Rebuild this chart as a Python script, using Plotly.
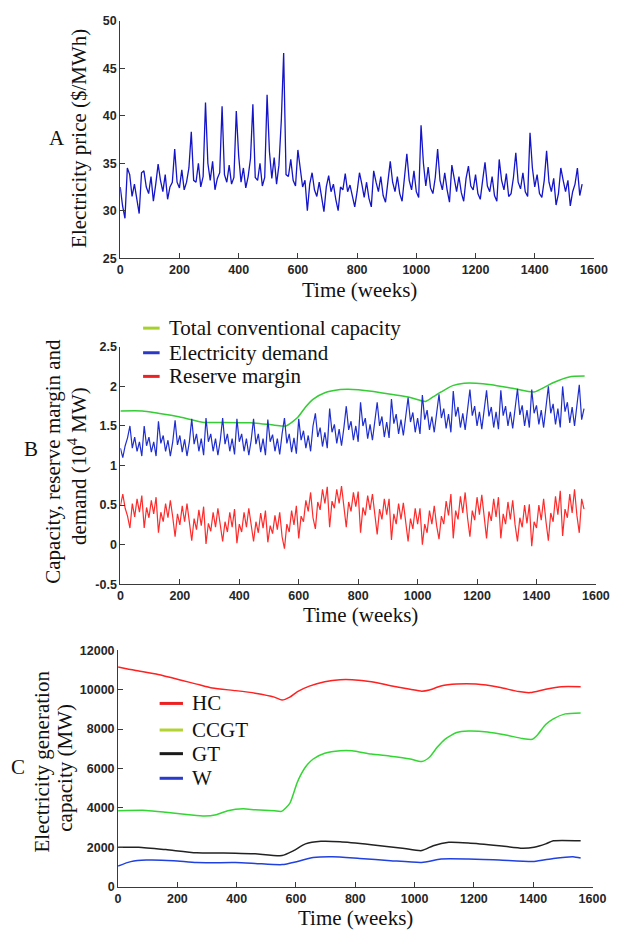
import plotly.graph_objects as go

W, H = 625, 936

# ---------------- data ----------------
WEEKS = list(range(0, 1561, 8))

price = [32.5, 30.5, 29.2, 34.5, 33.8, 31.5, 32.8, 31.4, 29.7, 34.0,
         34.2, 32.5, 31.8, 33.6, 31.0, 32.8, 34.9, 33.2, 32.0, 33.8,
         31.2, 32.5, 33.0, 36.5, 33.0, 32.4, 34.3, 32.2, 33.0, 34.5,
         38.3, 33.2, 33.0, 35.0, 32.5, 33.6, 41.4, 35.0, 33.2, 35.2,
         32.2, 33.4, 34.0, 41.0, 33.8, 33.0, 34.8, 32.8, 33.5, 40.5,
         35.8, 33.0, 34.5, 32.4, 33.6, 35.5, 41.2, 33.5, 33.2, 35.0,
         32.6, 33.5, 42.2, 36.2, 33.4, 35.6, 32.8, 34.8, 39.5, 46.6,
         33.8, 33.6, 35.4, 33.2, 32.6, 36.4, 34.2, 32.5, 33.2, 30.0,
         32.8, 34.0, 32.2, 31.5, 33.0, 31.6, 29.9, 32.5, 33.7, 32.0,
         32.8, 31.2, 30.0, 32.5, 32.2, 33.9, 32.0, 32.7, 31.5, 30.4,
         32.0, 34.0, 32.8, 31.4, 33.0, 31.3, 30.4, 34.2, 33.0, 32.0,
         33.6, 31.6, 30.9, 33.0, 35.2, 33.0, 32.0, 33.6, 31.8, 31.0,
         33.8, 36.0, 33.2, 32.2, 34.2, 32.0, 31.4, 39.0, 35.0, 32.6,
         34.6, 32.4, 31.8, 33.5, 36.5, 33.2, 32.2, 34.0, 32.2, 30.9,
         34.8, 33.5, 32.0, 33.6, 31.9, 31.0, 33.4, 34.7, 32.6, 32.2,
         33.8, 31.8, 31.2, 33.2, 35.1, 32.6, 32.0, 33.6, 31.6, 31.0,
         35.4, 33.2, 32.2, 33.9, 31.5, 31.8, 33.5, 36.1, 33.0, 32.3,
         34.0, 32.0, 31.5, 38.2, 34.5, 32.5, 33.8, 31.8, 31.4, 33.2,
         36.3, 33.0, 32.0, 33.4, 30.6, 31.8, 34.5, 33.2, 32.0, 33.2,
         30.5, 32.0, 32.8, 34.5, 31.6, 32.8]

demand = [1.22, 1.10, 1.25, 1.35, 1.50, 1.22, 1.36, 1.18, 1.30, 1.12,
          1.50, 1.25, 1.36, 1.17, 1.30, 1.12, 1.56, 1.28, 1.38, 1.18,
          1.32, 1.12, 1.30, 1.57, 1.26, 1.38, 1.17, 1.33, 1.12, 1.30,
          1.59, 1.27, 1.40, 1.18, 1.34, 1.13, 1.60, 1.30, 1.40, 1.18,
          1.34, 1.13, 1.32, 1.60, 1.27, 1.40, 1.18, 1.34, 1.14, 1.59,
          1.30, 1.40, 1.18, 1.34, 1.13, 1.32, 1.59, 1.27, 1.40, 1.17,
          1.34, 1.13, 1.58, 1.30, 1.39, 1.18, 1.34, 1.14, 1.40, 1.60,
          1.28, 1.40, 1.17, 1.35, 1.15, 1.59, 1.32, 1.44, 1.22, 1.38,
          1.18, 1.50, 1.66, 1.36, 1.48, 1.24, 1.42, 1.22, 1.72, 1.42,
          1.52, 1.28, 1.46, 1.25, 1.48, 1.75, 1.45, 1.56, 1.32, 1.50,
          1.30, 1.80, 1.50, 1.60, 1.34, 1.52, 1.32, 1.55, 1.80, 1.50,
          1.62, 1.36, 1.55, 1.35, 1.84, 1.53, 1.65, 1.40, 1.58, 1.38,
          1.60, 1.86, 1.55, 1.67, 1.42, 1.60, 1.40, 1.89, 1.58, 1.70,
          1.45, 1.62, 1.42, 1.66, 1.90, 1.60, 1.72, 1.47, 1.65, 1.42,
          1.94, 1.62, 1.74, 1.48, 1.66, 1.45, 1.70, 1.96, 1.63, 1.75,
          1.50, 1.68, 1.46, 1.70, 1.95, 1.62, 1.74, 1.48, 1.68, 1.46,
          1.95, 1.63, 1.75, 1.50, 1.68, 1.47, 1.72, 1.97, 1.64, 1.76,
          1.50, 1.70, 1.48, 1.96, 1.66, 1.76, 1.52, 1.70, 1.48, 1.72,
          2.00, 1.66, 1.78, 1.52, 1.72, 1.48, 2.00, 1.68, 1.80, 1.54,
          1.74, 1.50, 1.76, 2.02, 1.58, 1.72]

reserve = [0.49, 0.64, 0.46, 0.36, 0.21, 0.52, 0.35, 0.58, 0.41, 0.62,
           0.21, 0.47, 0.34, 0.56, 0.39, 0.60, 0.15, 0.41, 0.29, 0.52,
           0.34, 0.56, 0.35, 0.10, 0.39, 0.25, 0.49, 0.29, 0.52, 0.31,
           0.05, 0.33, 0.19, 0.44, 0.24, 0.48, 0.01, 0.27, 0.17, 0.41,
           0.22, 0.46, 0.24, 0.04, 0.29, 0.16, 0.41, 0.22, 0.45, 0.02,
           0.26, 0.16, 0.41, 0.22, 0.46, 0.24, 0.04, 0.29, 0.15, 0.40,
           0.21, 0.43, 0.03, 0.24, 0.14, 0.37, 0.19, 0.41, 0.10, -0.05,
           0.26, 0.16, 0.43, 0.25, 0.49, 0.08, 0.36, 0.29, 0.56, 0.42,
           0.66, 0.34, 0.20, 0.54, 0.44, 0.70, 0.52, 0.73, 0.22, 0.55,
           0.46, 0.70, 0.52, 0.74, 0.48, 0.22, 0.54, 0.42, 0.66, 0.48,
           0.67, 0.15, 0.47, 0.37, 0.62, 0.44, 0.64, 0.38, 0.13, 0.45,
           0.32, 0.58, 0.38, 0.58, 0.06, 0.39, 0.26, 0.52, 0.32, 0.53,
           0.27, 0.04, 0.33, 0.20, 0.46, 0.26, 0.46, 0.00, 0.26, 0.15,
           0.43, 0.26, 0.49, 0.24, 0.07, 0.36, 0.26, 0.55, 0.37, 0.64,
           0.08, 0.43, 0.32, 0.61, 0.40, 0.66, 0.34, 0.10, 0.43, 0.31,
           0.60, 0.38, 0.63, 0.33, 0.08, 0.42, 0.30, 0.58, 0.35, 0.60,
           0.08, 0.39, 0.26, 0.54, 0.32, 0.56, 0.25, 0.04, 0.34, 0.22,
           0.50, 0.27, 0.51, -0.02, 0.29, 0.21, 0.50, 0.31, 0.58, 0.29,
           0.05, 0.40, 0.29, 0.61, 0.38, 0.68, 0.11, 0.45, 0.34, 0.64,
           0.40, 0.70, 0.37, 0.15, 0.58, 0.45]

cap_weeks = [0, 74, 127, 192, 283, 336, 440, 518, 557, 597, 623, 649, 688, 740, 766,
             845, 910, 975, 1027, 1053, 1079, 1118, 1157, 1196, 1248, 1327, 1392, 1432,
             1458, 1510, 1562]
capacity = [1.69, 1.69, 1.66, 1.62, 1.545, 1.545, 1.54, 1.51, 1.50, 1.61, 1.74, 1.84, 1.92,
            1.96, 1.965, 1.94, 1.90, 1.86, 1.81, 1.87, 1.93, 2.01, 2.04, 2.04, 2.02, 1.97,
            1.93, 2.00, 2.05, 2.12, 2.13]

hc_weeks = [0, 56, 135, 213, 265, 318, 396, 462, 527, 553, 579, 605, 645, 697, 749, 789,
            854, 919, 985, 1024, 1050, 1089, 1142, 1207, 1285, 1351, 1390, 1442, 1495, 1560]
hc = [11150, 10980, 10770, 10480, 10280, 10080, 9950, 9820, 9620, 9470, 9620, 9900, 10180,
      10400, 10500, 10500, 10400, 10200, 10020, 9920, 9980, 10180, 10280, 10280, 10120,
      9900, 9850, 10020, 10150, 10150]

ccgt_weeks = [0, 95, 161, 239, 292, 331, 370, 422, 462, 527, 551, 579, 605, 632, 658, 697,
              749, 789, 854, 919, 985, 1024, 1050, 1076, 1102, 1142, 1181, 1246, 1312, 1364,
              1397, 1416, 1442, 1468, 1508, 1560]
ccgt = [3850, 3870, 3780, 3650, 3580, 3650, 3850, 3950, 3900, 3850, 3820, 4230, 5320, 6070,
        6480, 6770, 6900, 6900, 6730, 6620, 6480, 6350, 6570, 7070, 7480, 7820, 7900, 7850,
        7680, 7520, 7480, 7730, 8230, 8520, 8770, 8820]

gt_weeks = [0, 69, 161, 265, 396, 462, 553, 592, 632, 684, 749, 854, 959, 1024, 1063, 1115,
            1181, 1285, 1364, 1403, 1442, 1468, 1560]
gt = [2000, 2000, 1880, 1720, 1700, 1670, 1580, 1830, 2170, 2300, 2280, 2130, 1950, 1830,
      2080, 2250, 2220, 2080, 1950, 2000, 2170, 2330, 2330]

w_weeks = [0, 43, 95, 187, 265, 396, 462, 553, 605, 658, 723, 815, 919, 1024, 1089, 1181,
           1285, 1403, 1468, 1534, 1560]
wind = [1050, 1270, 1350, 1320, 1220, 1220, 1180, 1120, 1280, 1480, 1520, 1430, 1320, 1230,
        1400, 1400, 1350, 1280, 1430, 1520, 1450]

X_TICKS = [0, 200, 400, 600, 800, 1000, 1200, 1400, 1600]
A_TICKS = [25, 30, 35, 40, 45, 50]
B_TICKS = [-0.5, 0, 0.5, 1, 1.5, 2, 2.5]
B_TICKTEXT = ["-0.5", "0", "0.5", "1", "1.5", "2", "2.5"]
C_TICKS = [0, 2000, 4000, 6000, 8000, 10000, 12000]

legend_b = [("Total conventional capacity", "#a6d12c"),
            ("Electricity demand", "#2a38c8"),
            ("Reserve margin", "#ec2222")]
legend_c = [("HC", "#ec2222"), ("CCGT", "#b2d332"), ("GT", "#1a1a1a"), ("W", "#2a3acc")]

# ---------------- figure ----------------
def px_x(p):
    return p / W

def px_y(p):
    return (H - p) / H

fig = go.Figure()

fig.add_trace(go.Scatter(x=WEEKS, y=price, mode="lines", line=dict(color="#1414c8", width=1.3),
                         xaxis="x", yaxis="y", showlegend=False))
fig.add_trace(go.Scatter(x=cap_weeks, y=capacity, mode="lines", line=dict(color="#35cc35", width=1.5, shape="spline", smoothing=0.6),
                         xaxis="x2", yaxis="y2", showlegend=False))
fig.add_trace(go.Scatter(x=WEEKS, y=demand, mode="lines", line=dict(color="#1f2ecc", width=1.2),
                         xaxis="x2", yaxis="y2", showlegend=False))
fig.add_trace(go.Scatter(x=WEEKS, y=reserve, mode="lines", line=dict(color="#ff2a2a", width=1.2),
                         xaxis="x2", yaxis="y2", showlegend=False))
fig.add_trace(go.Scatter(x=hc_weeks, y=hc, mode="lines", line=dict(color="#ff2020", width=1.5, shape="spline", smoothing=0.6),
                         xaxis="x3", yaxis="y3", showlegend=False))
fig.add_trace(go.Scatter(x=ccgt_weeks, y=ccgt, mode="lines", line=dict(color="#33d633", width=1.5, shape="spline", smoothing=0.6),
                         xaxis="x3", yaxis="y3", showlegend=False))
fig.add_trace(go.Scatter(x=gt_weeks, y=gt, mode="lines", line=dict(color="#222222", width=1.5, shape="spline", smoothing=0.6),
                         xaxis="x3", yaxis="y3", showlegend=False))
fig.add_trace(go.Scatter(x=w_weeks, y=wind, mode="lines", line=dict(color="#2040e0", width=1.5, shape="spline", smoothing=0.6),
                         xaxis="x3", yaxis="y3", showlegend=False))

tickfont = dict(family="Liberation Sans, Arial", size=12.5, color="#262626", weight="bold")
axis_common = dict(showline=True, linecolor="#3a3a3a", linewidth=1, ticks="inside", ticklen=5,
                   tickcolor="#3a3a3a", showgrid=False, zeroline=False, mirror=False,
                   tickfont=tickfont, fixedrange=True)

xa = dict(range=[0, 1600], tickvals=X_TICKS, **axis_common)

fig.update_layout(
    width=W, height=H, margin=dict(l=0, r=0, t=0, b=0),
    paper_bgcolor="white", plot_bgcolor="white", showlegend=False,
    xaxis=dict(domain=[px_x(120.5), px_x(607.5)], anchor="y", **xa),
    yaxis=dict(domain=[px_y(255), px_y(14)], anchor="x", range=[25, 50], tickvals=A_TICKS, **axis_common),
    xaxis2=dict(domain=[px_x(120.7), px_x(609.5)], anchor="y2", **xa),
    yaxis2=dict(domain=[px_y(586), px_y(345)], anchor="x2", range=[-0.5, 2.5], tickvals=B_TICKS,
                ticktext=B_TICKTEXT, **axis_common),
    xaxis3=dict(domain=[px_x(118.3), px_x(606)], anchor="y3", **xa),
    yaxis3=dict(domain=[px_y(893), px_y(653)], anchor="x3", range=[0, 12000], tickvals=C_TICKS,
                tickformat="d", **axis_common),
)

serif = "Liberation Serif, Times New Roman, serif"
TS = 21

def ann(text, x, y, size=TS, angle=0, xanchor="center"):
    fig.add_annotation(text=text, x=px_x(x), y=px_y(y), xref="paper", yref="paper",
                       showarrow=False, textangle=angle, xanchor=xanchor, yanchor="middle",
                       font=dict(family=serif, size=size, color="#111111"))

# panel letters
ann("A", 55, 133, size=21)
ann("B", 29, 449, size=21)
ann("C", 15, 772, size=21)

# y-axis titles
ann("Electricity price ($/MWh)", 78, 133, angle=-90)
ann("Capacity, reserve margin and", 51, 461, angle=-90)
ann("demand (10<sup>4</sup> MW)", 76, 466, angle=-90)
ann("Electricity generation", 40, 766, angle=-90)
ann("capacity (MW)", 64, 772, angle=-90)

# x-axis titles
ann("Time (weeks)", 366, 287)
ann("Time (weeks)", 367, 617)
ann("Time (weeks)", 362, 925)

# legends (swatch + label)
rows_b = [326, 351, 375]
for (name, col), yy in zip(legend_b, rows_b):
    fig.add_shape(type="line", xref="paper", yref="paper", x0=px_x(144), x1=px_x(161),
                  y0=px_y(yy), y1=px_y(yy), line=dict(color=col, width=3))
    ann(name, 169, yy, xanchor="left")

rows_c = [707, 734, 758, 783]
for (name, col), yy in zip(legend_c, rows_c):
    fig.add_shape(type="line", xref="paper", yref="paper", x0=px_x(161), x1=px_x(185),
                  y0=px_y(yy), y1=px_y(yy), line=dict(color=col, width=3))
    ann(name, 192, yy, xanchor="left")

fig.write_html("out.html")
